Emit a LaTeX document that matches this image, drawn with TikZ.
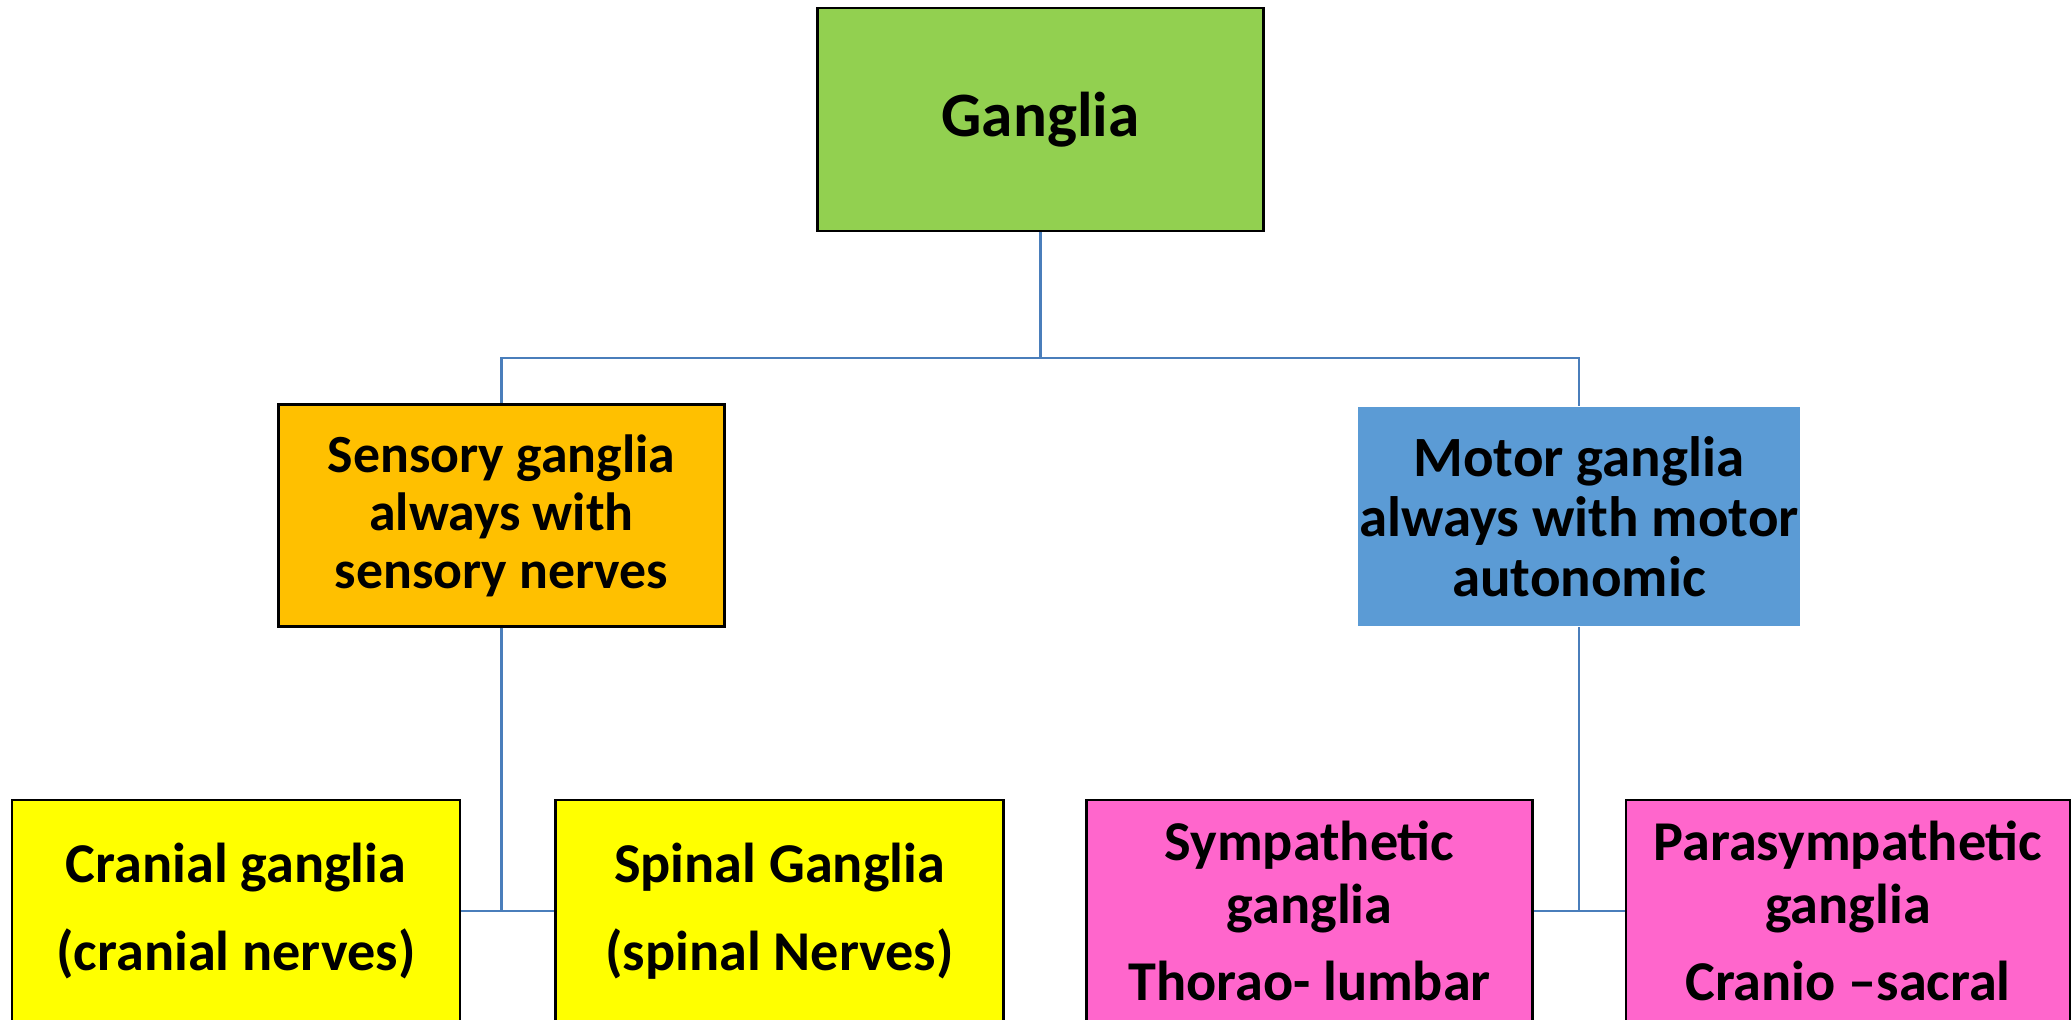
\documentclass[tikz,border=0pt]{standalone}
\usepackage{fontspec}
\setmainfont{Carlito}
\definecolor{rootgreen}{HTML}{92D050}
\definecolor{sensoryorange}{HTML}{FFC000}
\definecolor{motorblue}{HTML}{5B9BD5}
\definecolor{leafyellow}{HTML}{FFFF00}
\definecolor{leafpink}{HTML}{FF66CC}
\definecolor{linkblue}{HTML}{4A7EBB}
\tikzset{
  box/.style={draw=black, line width=0.7pt, inner sep=0pt, minimum width=4.46cm,
    minimum height=2.22cm, align=center, font=\bfseries\fontsize{15.3}{16.5}\selectfont},
  leaf/.style={box, font=\bfseries\fontsize{16}{18}\selectfont},
  link/.style={draw=linkblue, line width=0.7pt}
}
\begin{document}
\begin{tikzpicture}
    \useasboundingbox (0,0) rectangle (20.72,-10.20);
    \clip (0,0) rectangle (20.72,-10.20);
    \node[box, fill=rootgreen, minimum height=2.23cm,
      font=\bfseries\fontsize{18}{20}\selectfont] (ganglia) at (10.405,-1.195)
    {Ganglia}; \node[box, fill=sensoryorange] (sensory) at (5.015,-5.155)
    {Sensory ganglia\\always with\\sensory nerves}; \node[box, draw=none,
      fill=motorblue, minimum width=4.42cm, minimum height=2.19cm,
      font=\bfseries\fontsize{16.2}{17}\selectfont] (motor) at (15.79,-5.165)
    {Motor ganglia\\always with motor\\autonomic};
    \node[leaf, fill=leafyellow, minimum width=4.48cm] (cranial) at (2.36,-9.11)
    {Cranial ganglia\\[7pt](cranial nerves)}; \node[leaf, fill=leafyellow,
      minimum width=4.48cm] (spinal) at (7.795,-9.11)
    {Spinal Ganglia\\[7pt](spinal Nerves)}; \node[leaf, fill=leafpink] (sympathetic) at (13.095,-9.11)
    {Sympathetic\\ganglia\\[4pt]Thorao- lumbar}; \node[leaf, fill=leafpink,
      minimum width=4.44cm] (parasympathetic) at (18.48,-9.11)
    {Parasympathetic\\ganglia\\[4pt]Cranio \textendash sacral};
    \coordinate (split) at (10.405,-3.58);
    \draw[link] (ganglia) -- (split) -| (sensory);
    \draw[link] (split) -| (motor);
    \draw[link] (sensory) -- (sensory |- cranial.east);
    \draw[link] (cranial) -- (spinal);
    \draw[link] (motor) -- (motor |- sympathetic.east);
    \draw[link] (sympathetic) -- (parasympathetic);
  \end{tikzpicture}
\end{document}
